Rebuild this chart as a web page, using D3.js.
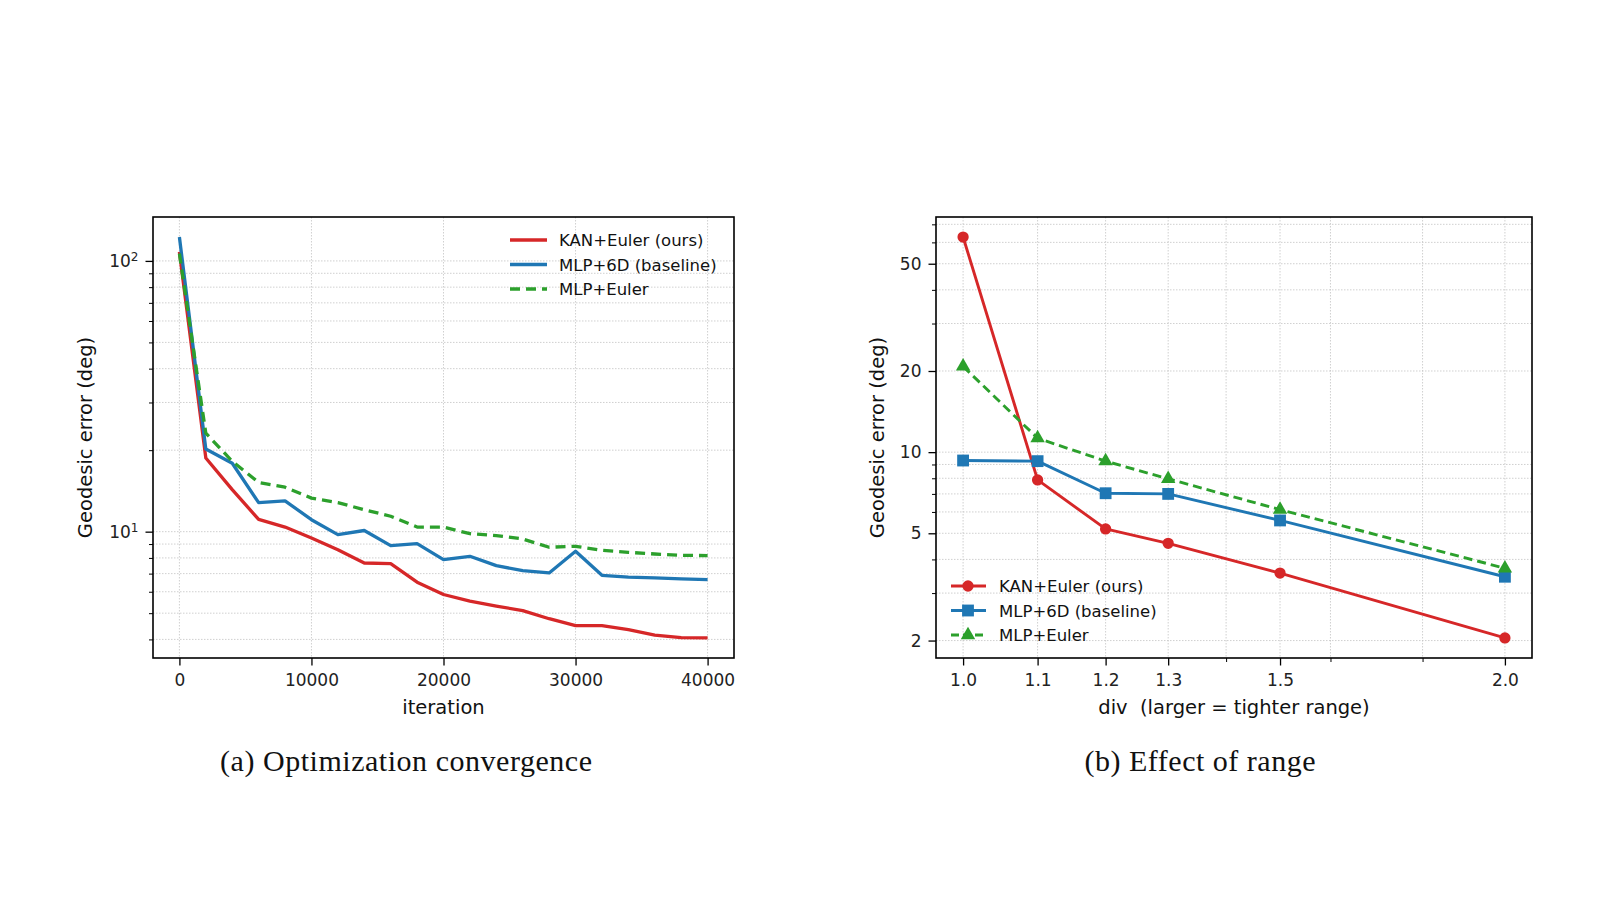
<!DOCTYPE html>
<html>
<head>
<meta charset="utf-8">
<script src="https://cdn.jsdelivr.net/npm/d3@7"></script>
<style>
	body { margin: 0; background: #fff; }
	svg { display: block; font-family: "DejaVu Sans", sans-serif; }
</style>
</head>
<body>
<div id="figure"></div>
<script>
// (a) optimization convergence, geodesic error (deg) logged every 2000 iterations
var iterations = [0, 2000, 4000, 6000, 8000, 10000, 12000, 14000, 16000, 18000, 20000,
	22000, 24000, 26000, 28000, 30000, 32000, 34000, 36000, 38000, 40000];
var kanEulerConv = [108, 18.7, 14.3, 11.1, 10.4, 9.48, 8.58, 7.66, 7.62, 6.51, 5.86,
	5.54, 5.31, 5.11, 4.77, 4.5, 4.5, 4.35, 4.15, 4.06, 4.05];
var mlp6dConv = [122.5, 20.2, 17.9, 12.8, 13.0, 11.07, 9.75, 10.1, 8.88, 9.03, 7.88,
	8.11, 7.49, 7.18, 7.04, 8.46, 6.9, 6.79, 6.75, 6.69, 6.65];
var mlpEulerConv = [106.4, 23.1, 18.2, 15.2, 14.6, 13.3, 12.8, 12.05, 11.4, 10.4, 10.4,
	9.83, 9.67, 9.4, 8.76, 8.83, 8.53, 8.39, 8.27, 8.18, 8.16];

// (b) effect of range
var divValues = [1.0, 1.1, 1.2, 1.3, 1.5, 2.0];
var kanEulerRange = [62.8, 7.89, 5.19, 4.59, 3.56, 2.045];
var mlp6dRange = [9.31, 9.26, 7.04, 7.0, 5.58, 3.45];
var mlpEulerRange = [20.8, 11.27, 9.26, 7.96, 6.12, 3.71];

var seriesNames = ["KAN+Euler (ours)", "MLP+6D (baseline)", "MLP+Euler"];
var seriesColors = ["#d62728", "#1f77b4", "#2ca02c"];

// tick values
var iterTicks = [0, 10000, 20000, 30000, 40000];
var convMajorTicks = [10, 100];
var convMinorTicks = [4, 5, 6, 7, 8, 9, 20, 30, 40, 50, 60, 70, 80, 90];
var divTicks = [1.0, 1.1, 1.2, 1.3, 1.5, 2.0];
var divMinorTicks = [1.4, 1.6, 1.8];
var rangeMajorTicks = [2, 5, 10, 20, 50];
var rangeMinorTicks = [3, 4, 6, 7, 8, 9, 30, 40, 60, 70];

var svg = d3.select("#figure").append("svg").attr("width", 1600).attr("height", 900);
svg.append("rect").attr("width", 1600).attr("height", 900).attr("fill", "#fff");

// matplotlib-style 5% margins
function padLinear(ext) {
	var d = (ext[1] - ext[0]) * 0.05;
	return [ext[0] - d, ext[1] + d];
}
function padLog(ext) {
	var a = Math.log10(ext[0]), b = Math.log10(ext[1]);
	var d = (b - a) * 0.05;
	return [Math.pow(10, a - d), Math.pow(10, b + d)];
}

function drawGrid(g, box, x, y, xs, ys) {
	g.append("g")
		.selectAll("line")
		.data(xs)
		.join("line")
		.attr("x1", (d) => x(d)).attr("x2", (d) => x(d))
		.attr("y1", box.top).attr("y2", box.bottom)
		.attr("stroke", "#c4c4c4").attr("stroke-width", 0.8)
		.attr("stroke-dasharray", "1.5,1.5");
	g.append("g")
		.selectAll("line")
		.data(ys)
		.join("line")
		.attr("x1", box.left).attr("x2", box.right)
		.attr("y1", (d) => y(d)).attr("y2", (d) => y(d))
		.attr("stroke", "#c4c4c4").attr("stroke-width", 0.8)
		.attr("stroke-dasharray", "1.5,1.5");
}

function styleAxis(sel, size) {
	sel.select(".domain").remove();
	sel.selectAll(".tick line").attr("stroke", "#000").attr("stroke-width", size > 5 ? 1.3 : 1);
	sel.selectAll("text").attr("fill", "#222").style("font-size", "17px")
		.style("font-family", '"DejaVu Sans", sans-serif');
}

function drawAxes(box, x, y, opts) {
	var g = svg.append("g");
	drawGrid(g, box, x, y, opts.gridX, opts.gridY);

	// x axis major + minor
	var xa = g.append("g").attr("transform", `translate(0, ${box.bottom})`)
		.call(d3.axisBottom(x).tickValues(opts.xTicks).tickSize(7.5).tickPadding(8).tickFormat(opts.xFormat));
	styleAxis(xa, 7.5);
	if (opts.xMinor) {
		var xm = g.append("g").attr("transform", `translate(0, ${box.bottom})`)
			.call(d3.axisBottom(x).tickValues(opts.xMinor).tickSize(4).tickFormat(""));
		styleAxis(xm, 4);
	}

	// y axis major + minor
	var ya = g.append("g").attr("transform", `translate(${box.left}, 0)`)
		.call(d3.axisLeft(y).tickValues(opts.yTicks).tickSize(7.5).tickPadding(7).tickFormat(opts.yFormat));
	styleAxis(ya, 7.5);
	if (opts.superscript) {
		ya.selectAll(".tick text").each(function (d) {
			var t = d3.select(this);
			t.text("10");
			t.append("tspan").attr("dy", "-0.45em").style("font-size", "12px").text(Math.round(Math.log10(d)));
		});
	}
	var ym = g.append("g").attr("transform", `translate(${box.left}, 0)`)
		.call(d3.axisLeft(y).tickValues(opts.yMinor).tickSize(4).tickFormat(""));
	styleAxis(ym, 4);

	// axis labels
	g.append("text")
		.attr("x", (box.left + box.right) / 2).attr("y", 714)
		.attr("text-anchor", "middle").style("font-size", "19.5px").style("white-space", "pre")
		.attr("fill", "#111").text(opts.xLabel);
	g.append("text")
		.attr("transform", `translate(${opts.yLabelX}, ${(box.top + box.bottom) / 2}) rotate(-90)`)
		.attr("text-anchor", "middle").style("font-size", "19.5px")
		.attr("fill", "#111").text("Geodesic error (deg)");

	// caption
	g.append("text")
		.attr("x", opts.captionX).attr("y", 771)
		.attr("text-anchor", "middle")
		.attr("textLength", opts.captionWidth).attr("lengthAdjust", "spacing")
		.style("font-family", '"Liberation Serif", serif').style("font-size", "30px")
		.attr("fill", "#111").text(opts.caption);
	return g;
}

function drawFrame(box) {
	svg.append("rect")
		.attr("x", box.left).attr("y", box.top)
		.attr("width", box.right - box.left).attr("height", box.bottom - box.top)
		.attr("fill", "none").attr("stroke", "#000").attr("stroke-width", 1.6);
}

// ---------- (a) Optimization convergence ----------
function convergencePanel() {
	var box = { left: 153, right: 734, top: 217, bottom: 658 };
	var allVals = kanEulerConv.concat(mlp6dConv, mlpEulerConv);
	var x = d3.scaleLinear().domain(padLinear(d3.extent(iterations))).range([box.left, box.right]);
	var y = d3.scaleLog().domain(padLog(d3.extent(allVals))).range([box.bottom, box.top]);

	drawAxes(box, x, y, {
		gridX: iterTicks, gridY: convMajorTicks.concat(convMinorTicks),
		xTicks: iterTicks, xFormat: d3.format("d"),
		yTicks: convMajorTicks, yMinor: convMinorTicks, yFormat: d3.format("d"), superscript: true,
		xLabel: "iteration", yLabelX: 92,
		caption: "(a) Optimization convergence", captionX: 406, captionWidth: 372
	});

	var line = d3.line().x((d, i) => x(iterations[i])).y((d) => y(d));
	var series = [kanEulerConv, mlp6dConv, mlpEulerConv];
	series.forEach(function (s, k) {
		svg.append("path")
			.attr("d", line(s))
			.attr("fill", "none")
			.attr("stroke", seriesColors[k])
			.attr("stroke-width", 3.3)
			.attr("stroke-linejoin", "round")
			.attr("stroke-dasharray", k == 2 ? "10,6" : null);
	});
	drawFrame(box);

	// legend (upper right, no frame)
	var legend = svg.append("g");
	seriesNames.forEach(function (name, k) {
		var yy = 240 + k * 24.5;
		legend.append("line")
			.attr("x1", 510).attr("x2", 547).attr("y1", yy).attr("y2", yy)
			.attr("stroke", seriesColors[k]).attr("stroke-width", 3.3)
			.attr("stroke-dasharray", k == 2 ? "10,6" : null);
		legend.append("text")
			.attr("x", 559).attr("y", yy + 6)
			.style("font-size", "16.5px").attr("fill", "#111").text(name);
	});
}

// ---------- (b) Effect of range ----------
function rangePanel() {
	var box = { left: 936, right: 1532, top: 217, bottom: 658 };
	var allVals = kanEulerRange.concat(mlp6dRange, mlpEulerRange);
	var x = d3.scaleLog().domain(padLog(d3.extent(divValues))).range([box.left, box.right]);
	var y = d3.scaleLog().domain(padLog(d3.extent(allVals))).range([box.bottom, box.top]);

	drawAxes(box, x, y, {
		gridX: divTicks.concat(divMinorTicks), gridY: rangeMajorTicks.concat(rangeMinorTicks),
		xTicks: divTicks, xMinor: divMinorTicks, xFormat: d3.format(".1f"),
		yTicks: rangeMajorTicks, yMinor: rangeMinorTicks, yFormat: d3.format("d"),
		xLabel: "div  (larger = tighter range)", yLabelX: 884,
		caption: "(b) Effect of range", captionX: 1200, captionWidth: 231
	});

	var symbols = [d3.symbolCircle, d3.symbolSquare, d3.symbolTriangle];
	var sizes = [100, 140, 90];
	var line = d3.line().x((d, i) => x(divValues[i])).y((d) => y(d));
	var series = [kanEulerRange, mlp6dRange, mlpEulerRange];
	series.forEach(function (s, k) {
		svg.append("path")
			.attr("d", line(s))
			.attr("fill", "none")
			.attr("stroke", seriesColors[k])
			.attr("stroke-width", 2.9)
			.attr("stroke-linejoin", "round")
			.attr("stroke-dasharray", k == 2 ? "9,5" : null);
		svg.append("g")
			.selectAll("path")
			.data(s)
			.join("path")
			.attr("transform", (d, i) => `translate(${x(divValues[i])}, ${y(d)})`)
			.attr("d", d3.symbol().type(symbols[k]).size(sizes[k]))
			.attr("fill", seriesColors[k]);
	});
	drawFrame(box);

	// legend (lower left, no frame)
	var legend = svg.append("g");
	seriesNames.forEach(function (name, k) {
		var yy = 586 + k * 24.5;
		legend.append("line")
			.attr("x1", 951).attr("x2", 986).attr("y1", yy).attr("y2", yy)
			.attr("stroke", seriesColors[k]).attr("stroke-width", 2.9)
			.attr("stroke-dasharray", k == 2 ? "8,4" : null);
		legend.append("path")
			.attr("transform", `translate(968, ${yy})`)
			.attr("d", d3.symbol().type(symbols[k]).size(sizes[k]))
			.attr("fill", seriesColors[k]);
		legend.append("text")
			.attr("x", 999).attr("y", yy + 6)
			.style("font-size", "16.5px").attr("fill", "#111").text(name);
	});
}

convergencePanel();
rangePanel();
</script>
</body>
</html>
